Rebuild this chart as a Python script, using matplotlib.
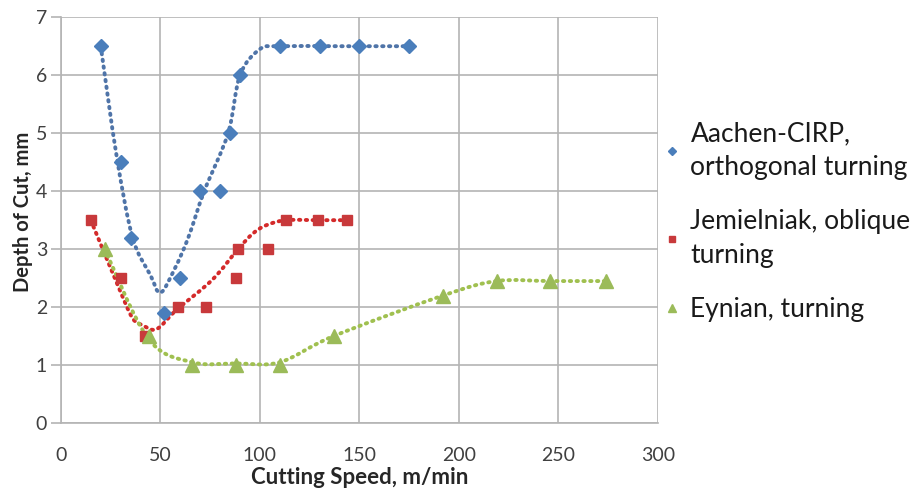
import numpy as np
import matplotlib
matplotlib.use("Agg")
import matplotlib.pyplot as plt
from matplotlib.path import Path
from matplotlib.patches import PathPatch

plt.rcParams['font.family'] = ['Lato', 'DejaVu Sans']

# measured points
aachen_x = [20, 30, 35, 52, 60, 70, 80, 85, 90, 110, 130, 150, 175]
aachen_y = [6.5, 4.5, 3.2, 1.9, 2.5, 4.0, 4.0, 5.0, 6.0, 6.5, 6.5, 6.5, 6.5]

jem_x = [15, 30, 42, 59, 73, 88, 89, 104, 113, 129, 144]
jem_y = [3.5, 2.5, 1.5, 2.0, 2.0, 2.5, 3.0, 3.0, 3.5, 3.5, 3.5]

eyn_x = [22, 44, 66, 88, 110, 137, 192, 219, 246, 274]
eyn_y = [3.0, 1.5, 1.0, 1.0, 1.0, 1.5, 2.2, 2.45, 2.45, 2.45]

# trend curves (smoothed through these points)
aachen_tx = [20, 28, 36, 45, 50, 57, 64, 72, 84, 90, 100, 110, 140, 175]
aachen_ty = [6.5, 4.6, 3.2, 2.55, 2.25, 2.65, 3.2, 4.0, 5.0, 6.0, 6.45, 6.5, 6.5, 6.5]

jem_tx = [15, 29.5, 36, 41, 48, 58, 76, 89, 96.5, 103, 113, 129, 144]
jem_ty = [3.5, 2.3, 1.81, 1.69, 1.62, 1.95, 2.47, 3.0, 3.27, 3.41, 3.5, 3.5, 3.5]

eyn_tx = [22, 44, 66, 88, 110, 137, 192, 219, 246, 274]
eyn_ty = [3.0, 1.45, 1.05, 1.03, 1.05, 1.5, 2.2, 2.45, 2.45, 2.45]

labels = ['Aachen-CIRP,\northogonal turning',
          'Jemielniak, oblique\nturning',
          'Eynian, turning']

x_ticks = [0, 50, 100, 150, 200, 250, 300]
y_ticks = [0, 1, 2, 3, 4, 5, 6, 7]


def smooth_path(xs, ys):
    # Excel-like smoothed line: Catmull-Rom segments as cubic Beziers
    p = np.column_stack([xs, ys]).astype(float)
    n = len(p)
    verts = [p[0]]
    codes = [Path.MOVETO]
    for i in range(n - 1):
        p0 = p[i - 1] if i > 0 else p[i]
        p3 = p[i + 2] if i + 2 < n else p[i + 1]
        c1 = p[i] + (p[i + 1] - p0) / 6.0
        c2 = p[i + 1] - (p3 - p[i]) / 6.0
        verts += [c1, c2, p[i + 1]]
        codes += [Path.CURVE4] * 3
    return Path(verts, codes)


fig = plt.figure(figsize=(9.14, 4.92), dpi=100)
ax = fig.add_axes([0.0667, 0.140, 0.653, 0.825])

grid_c = '#b4b4b4'
ax.set_xlim(0, 300)
ax.set_ylim(0, 7)
ax.set_xticks(x_ticks)
ax.set_yticks(y_ticks)
ax.grid(True, color=grid_c, lw=1.2)
ax.set_axisbelow(True)
for s in ax.spines.values():
    s.set_visible(False)
for side in ['left', 'bottom']:
    ax.spines[side].set_visible(True)
    ax.spines[side].set_color(grid_c)
    ax.spines[side].set_linewidth(1.2)
ax.tick_params(axis='y', length=7, color=grid_c, width=1.2, labelsize=14,
               labelcolor='#404040', pad=3)
ax.tick_params(axis='x', length=0, labelsize=14, labelcolor='#404040', pad=17)

series = [
    (aachen_x, aachen_y, aachen_tx, aachen_ty, '#4a7ebb', '#4f74a8', 'D', 7.5),
    (jem_x, jem_y, jem_tx, jem_ty, '#c8393b', '#d42a2a', 's', 7),
    (eyn_x, eyn_y, eyn_tx, eyn_ty, '#9bbb59', '#a0c050', '^', 9.5),
]

handles = []
for (x, y, tx, ty, mc, lc, mk, ms), lab in zip(series, labels):
    patch = PathPatch(smooth_path(tx, ty), fill=False, edgecolor=lc, lw=2.8,
                      linestyle=(0, (0.35, 1.4)), capstyle='round', zorder=2)
    ax.add_patch(patch)
    h, = ax.plot(x, y, linestyle='none', marker=mk, markersize=ms,
                 color=mc, markeredgecolor=mc, zorder=3, label=lab)
    handles.append(h)

ax.set_xlabel('Cutting Speed, m/min', fontsize=16, fontweight='bold',
              color='#262626', labelpad=2)
ax.set_ylabel('Depth of Cut, mm', fontsize=14.5, fontweight='bold',
              color='#262626')
ax.yaxis.set_label_coords(-0.047, 0.52)

leg = fig.legend(handles=handles, loc='center left',
                 bbox_to_anchor=(0.715, 0.55), frameon=False,
                 fontsize=19, markerscale=0.6, handlelength=0.6,
                 handletextpad=0.4, labelspacing=1.1, borderaxespad=0)
for t in leg.get_texts():
    t.set_linespacing(1.45)
    t.set_color('#1a1a1a')

fig.savefig('out.png', dpi=100)
